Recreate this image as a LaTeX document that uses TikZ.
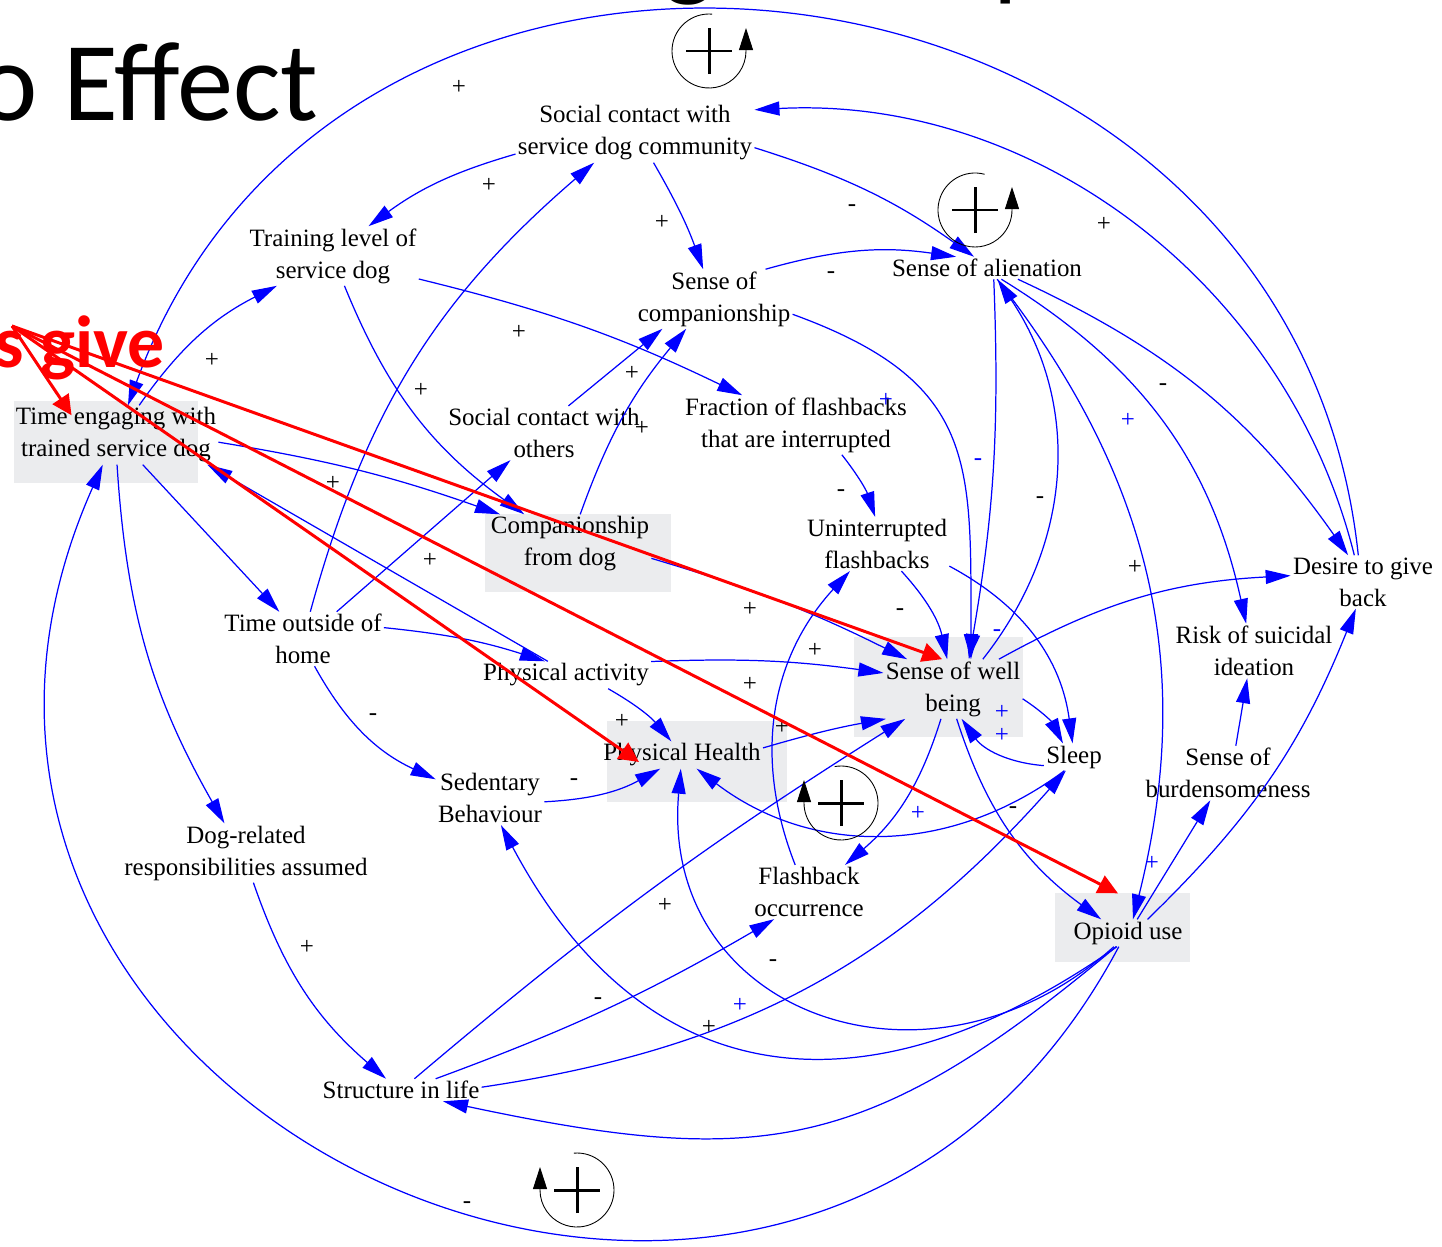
\documentclass[tikz,border=0pt]{standalone}
\usepackage{fontspec}
\setmainfont{Liberation Serif}
\newfontfamily\slidefont{Carlito}
\usetikzlibrary{arrows.meta}
\definecolor{boxgray}{RGB}{235,236,238}

\begin{document}
\begin{tikzpicture}[x=0.2mm, y=0.2mm,
    var/.style={align=center, inner sep=0.4mm, font=\fontsize{14.2}{18.2}\selectfont},
    link/.style={draw=blue, line width=0.7pt, -{Triangle[length=5mm,width=2.8mm]}},
    sign/.style={inner sep=0pt, font=\fontsize{14.2}{18.2}\selectfont},
    loopline/.style={draw=black, line width=0.5pt, -{Triangle[length=4.4mm,width=2.8mm]}},
    loopplus/.style={draw=black, line width=1.7pt},
    callout/.style={draw=red, line width=1.7pt, -{Triangle[length=4mm,width=3.8mm]}}]

\useasboundingbox (0,0) rectangle (1442,-1247);
\clip (0,0) rectangle (1442,-1247);

% slide title, cut off by the frame
\node[anchor=base west, inner sep=0, font=\slidefont\fontsize{64}{64}\selectfont] (title) at (-22,-120) {o Effect};
\node[anchor=base west, inner sep=0, font=\slidefont\fontsize{62}{62}\selectfont] (titleg) at (663,14) {g};
\node[anchor=base west, inner sep=0, font=\slidefont\fontsize{62}{62}\selectfont] (titlep) at (993,14) {p};

% grey boxes
\fill[boxgray] (14,-401) rectangle (198,-483);
\fill[boxgray] (485,-514) rectangle (671,-592);
\fill[boxgray] (854,-637) rectangle (1023,-737);
\fill[boxgray] (607,-721) rectangle (787,-802);
\fill[boxgray] (1055,-893) rectangle (1190,-962);

% variables
\node[var] (comm) at (635,-133) {Social contact with\\service dog community};
\node[var] (train) at (333,-256) {Training level of\\service dog};
\node[var] (scomp) at (714,-299) {Sense of\\companionship};
\node[var] (alien) at (987,-268) {Sense of alienation};
\node[var] (eng) at (116,-435) {Time engaging with\\trained service dog};
\node[var] (soth) at (544,-433) {Social contact with\\others};
\node[var] (frac) at (796,-425) {Fraction of flashbacks\\that are interrupted};
\node[var] (cdog) at (570,-544) {Companionship\\from dog};
\node[var] (unint) at (877,-544) {Uninterrupted\\flashbacks};
\node[var] (desire) at (1363,-582) {Desire to give\\back};
\node[var] (tout) at (303,-639) {Time outside of\\home};
\node[var] (pact) at (566,-675) {Physical activity};
\node[var] (swb) at (953,-689) {Sense of well\\being};
\node[var] (risk) at (1254,-651) {Risk of suicidal\\ideation};
\node[var] (ph) at (682,-755) {Physical Health};
\node[var] (sed) at (490,-798) {Sedentary\\Behaviour};
\node[var] (sleep) at (1074,-757) {Sleep};
\node[var] (burd) at (1228,-773) {Sense of\\burdensomeness};
\node[var] (dogr) at (246,-853) {Dog-related\\responsibilities assumed};
\node[var] (flash) at (809,-892) {Flashback\\occurrence};
\node[var] (opi) at (1128,-933) {Opioid use};
\node[var] (struct) at (401,-1090) {Structure in life};

% causal links
\draw[link] (comm.190) to[bend right=10] (train.40);
\draw[link] (eng.52) to[bend left=14] (train.208);
\draw[link] (desire.100) to[out=96, in=70, looseness=1.32] (eng.68);
\draw[link] (desire.108) to[out=104, in=3, looseness=0.96] (comm.11);
\draw[link] (comm.-58) to[bend left=5] (scomp.110);
\draw[link] (comm.-7) to[bend left=9] (alien.139);
\draw[link] (scomp.30) to[bend left=12] (alien.160);
\draw[link] (cdog.71) to[bend left=10] (scomp.227);
\draw[link] (soth.48) -- (scomp.210);
\draw[link] (train.-15) to[bend left=6] (frac.151);
\draw[link] (train.-69) to[bend right=16] (cdog.147);
\draw[link] (tout.75) to[bend left=17] (comm.216);
\draw[link] (tout.39) -- (soth.219);
\draw[link] (eng.-4) to[bend left=5] (cdog.157);
\draw[link] (pact.143) -- (eng.-18);
\draw[link] (eng.-48) -- (tout.131);
\draw[link] (eng.-88) to[bend right=13] (dogr.126);
\draw[link] (opi.236) to[out=-118, in=-114, looseness=1.6] (eng.246);
\draw[link] (tout.8) to[bend left=6] (pact.147);
\draw[link] (tout.-67) to[bend right=18] (sed.161);
\draw[link] (pact.9) to[bend left=5] (swb.167);
\draw[link] (pact.-18) to[bend left=10] (ph.128);
\draw[link] (ph.5) to[bend left=3] (swb.204);
\draw[link] (struct.40) to[bend left=4] (swb.212);
\draw[link] (sed.-4) to[bend right=13] (ph.212);
\draw[link] (opi.224) to[out=-138, in=-95, looseness=1.35] (ph.265);
\draw[link] (sleep.235) to[bend left=37] (ph.-43);
\draw[link] (swb.33) to[bend left=13] (desire.175);
\draw[link] (swb.-8) to[bend left=15] (sleep.129);
\draw[link] (unint.-17) to[bend left=27] (sleep.96);
\draw[link] (sleep.196) to[bend left=25] (swb.-74);
\draw[link] (unint.-48) to[bend left=15] (swb.101);
\draw[link] (alien.-59) to[bend left=6] (swb.62);
\draw[link] (scomp.-11) to[out=-20, in=90, looseness=1.3] (swb.59);
\draw[link] (alien.-48) to[bend left=26] (opi.70);
\draw[link] (alien.-38) to[bend left=23] (risk.106);
\draw[link] (alien.-20) to[bend left=15] (desire.119);
\draw[link] (swb.45) to[bend right=36] (alien.-47);
\draw[link] (opi.56) -- (burd.237);
\draw[link] (opi.35) to[bend right=12] (desire.255);
\draw[link] (burd.74) -- (risk.256);
\draw[link] (frac.-33) to[bend left=10] (unint.94);
\draw[link] (flash.117) to[bend left=32] (unint.225);
\draw[link] (swb.248) to[bend left=16] (flash.37);
\draw[link] (swb.-83) to[bend right=18] (opi.153);
\draw[link] (struct.18) to[bend right=5] (flash.218);
\draw[link] (struct.2) to[bend right=20] (sleep.239);
\draw[link] (opi.231) to[out=-145, in=-62, looseness=1.25] (sed.-68);
\draw[link] (opi.229) to[out=-140, in=-12, looseness=1.2] (struct.-15);
\draw[link] (dogr.-76) to[bend right=15] (struct.143);
\draw[link] (cdog.-10) to[bend left=5] (swb.147);

% polarities
\foreach \x/\y [count=\i] in {459/87, 489/185, 662/222, 1104/224, 212/360, 519/332, 421/390,
    632/373, 642/428, 333/483, 430/560, 750/609, 1135/567, 815/650, 750/684, 622/721,
    782/727, 665/905, 307/947, 709/1027}
  \node[sign] (pos\i) at (\x,-\y) {+};
\foreach \x/\y [count=\i] in {852/208, 831/275, 1163/387, 1040/500, 841/493, 900/612,
    373/717, 574/782, 1013/810, 773/963, 598/1001, 467/1205}
  \node[sign] (neg\i) at (\x,-\y) {-};
\foreach \x/\y [count=\i] in {886/400, 1128/420, 1002/712, 1002/735, 918/813, 740/1005, 1152/863}
  \node[sign, text=blue] (bpos\i) at (\x,-\y) {+};
\foreach \x/\y [count=\i] in {978/462, 997/633}
  \node[sign, text=blue] (bneg\i) at (\x,-\y) {-};

% loop markers
\foreach \cx/\cy/\sa/\ea [count=\i] in {709/51/85/360, 975/210/75/360, 841/803/100/-180, 577/1190/95/-180} {
  \coordinate (loop\i) at (\cx,-\cy);
  \draw[loopline] ([shift={(\sa:7.4mm)}]loop\i) arc[start angle=\sa, end angle=\ea, radius=7.4mm]
    -- ++(0,4.6mm);
  \draw[loopplus] ([xshift=-4.6mm]loop\i) -- ([xshift=4.6mm]loop\i)
                  ([yshift=-4.6mm]loop\i) -- ([yshift=4.6mm]loop\i);
}

% red call-out
\node[anchor=base west, inner sep=0, text=red, font=\slidefont\bfseries\fontsize{42}{42}\selectfont] (sgive) at (-6,-367) {s give};
\coordinate (callout) at (12,-326);
\draw[callout] (callout) -- ([xshift=11.6mm,yshift=-2mm]eng.north west);
\draw[callout] (callout) -- (swb.110);
\draw[callout] (callout) -- ([xshift=7.6mm,yshift=-1.4mm]ph.west);
\draw[callout] (callout) -- ([xshift=-2mm,yshift=5.2mm]opi.north);
\end{tikzpicture}
\end{document}
